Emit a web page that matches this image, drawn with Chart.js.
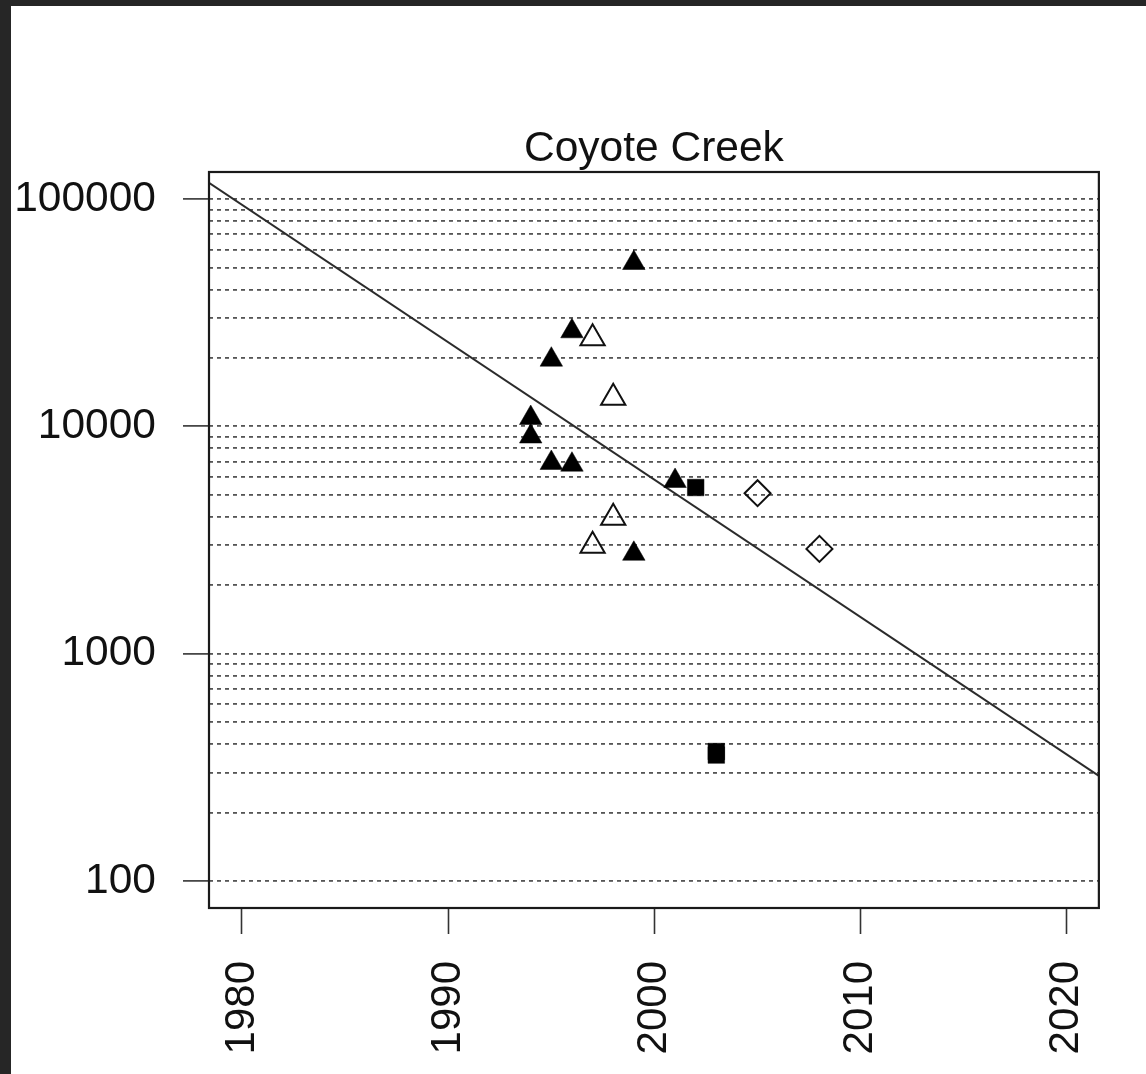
<!DOCTYPE html>
<html>
<head>
<meta charset="utf-8">
<title>Coyote Creek</title>
<script src="https://cdn.jsdelivr.net/npm/chart.js@4/dist/chart.umd.min.js"></script>
<style>
  html, body { margin: 0; padding: 0; background: #262626; width: 1146px; height: 1074px; overflow: hidden; }
  #frame { position: absolute; left: 11px; top: 6px; width: 1135px; height: 1068px; background: #ffffff; }
  canvas { display: block; }
</style>
</head>
<body>
<div id="frame"><canvas id="chart" width="1135" height="1068"></canvas></div>
<script>
// Observations by year, grouped by marker type
const filledTriYears  = [1994, 1994, 1995, 1995, 1996, 1996, 1999, 1999, 2001];
const filledTriValues = [10880, 9020, 19640, 6900, 26180, 6780, 52300, 2750, 5750];

const openTriYears  = [1997, 1997, 1998, 1998];
const openTriValues = [24400, 2980, 13370, 3960];

const squareYears  = [2002, 2003, 2003];
const squareValues = [5380, 371, 358];

const diamondYears  = [2005, 2008];
const diamondValues = [5080, 2890];

// Log-linear trend, drawn across the full year range
const trendYears  = [1978.4, 2021.55];
const trendValues = [117900, 290];

// Axes
const xRange = [1978.4, 2021.55];
const yRange = [76.06, 131470];
const xTicks = [1980, 1990, 2000, 2010, 2020];
const yTickLabels = [100, 1000, 10000, 100000];
const yGridValues = [
  100, 200, 300, 400, 500, 600, 700, 800, 900,
  1000, 2000, 3000, 4000, 5000, 6000, 7000, 8000, 9000,
  10000, 20000, 30000, 40000, 50000, 60000, 70000, 80000, 90000,
  100000
];

const pairs = (xs, ys) => xs.map((x, i) => ({ x: x, y: ys[i] }));

const FONT = '"Liberation Sans", Arial, Helvetica, sans-serif';
const INK = '#111111';

// Solid frame around the plotting area
const boxPlugin = {
  id: 'plotBox',
  afterDraw(chart) {
    const a = chart.chartArea;
    const ctx = chart.ctx;
    ctx.save();
    ctx.strokeStyle = '#1a1a1a';
    ctx.lineWidth = 2.2;
    ctx.setLineDash([]);
    ctx.strokeRect(a.left, a.top, a.right - a.left, a.bottom - a.top);
    ctx.restore();
  }
};

new Chart(document.getElementById('chart'), {
  type: 'scatter',
  data: {
    datasets: [
      {
        label: 'trend',
        data: pairs(trendYears, trendValues),
        showLine: true,
        borderColor: '#2b2b2b',
        borderWidth: 2,
        pointRadius: 0,
        order: 5
      },
      {
        label: 'filled triangles',
        data: pairs(filledTriYears, filledTriValues),
        pointStyle: 'triangle',
        pointRadius: 13,
        backgroundColor: '#000000',
        borderColor: '#000000',
        borderWidth: 0.5
      },
      {
        label: 'open triangles',
        data: pairs(openTriYears, openTriValues),
        pointStyle: 'triangle',
        pointRadius: 14,
        backgroundColor: 'rgba(0,0,0,0)',
        borderColor: INK,
        borderWidth: 2
      },
      {
        label: 'squares',
        data: pairs(squareYears, squareValues),
        pointStyle: 'rect',
        pointRadius: 11.7,
        backgroundColor: '#000000',
        borderColor: '#000000',
        borderWidth: 0.5
      },
      {
        label: 'diamonds',
        data: pairs(diamondYears, diamondValues),
        pointStyle: 'rectRot',
        pointRadius: 13,
        backgroundColor: 'rgba(0,0,0,0)',
        borderColor: INK,
        borderWidth: 2
      }
    ]
  },
  options: {
    responsive: false,
    animation: false,
    devicePixelRatio: 1,
    layout: { padding: { left: 0, right: 45, top: 0, bottom: 0 } },
    plugins: {
      legend: { display: false },
      tooltip: { enabled: false },
      title: {
        display: true,
        text: 'Coyote Creek',
        fullSize: false,
        color: INK,
        font: { family: FONT, size: 42.5, weight: 'normal', lineHeight: 1.0 },
        padding: { top: 122.5, bottom: 1 }
      }
    },
    scales: {
      x: {
        type: 'linear',
        position: 'bottom',
        min: xRange[0],
        max: xRange[1],
        afterBuildTicks(scale) {
          scale.ticks = xTicks.map(v => ({ value: v }));
        },
        afterFit(scale) { scale.height = 166; },
        ticks: {
          autoSkip: false,
          minRotation: 90,
          maxRotation: 90,
          padding: 27,
          color: INK,
          font: { family: FONT, size: 42 },
          callback: v => String(v)
        },
        grid: {
          drawOnChartArea: false,
          drawTicks: true,
          tickLength: 26,
          tickWidth: 1.6,
          tickColor: '#333333'
        },
        border: { display: false }
      },
      y: {
        type: 'logarithmic',
        position: 'left',
        min: yRange[0],
        max: yRange[1],
        afterBuildTicks(scale) {
          scale.ticks = yGridValues.map(v => ({ value: v }));
        },
        afterFit(scale) { scale.width = 198; },
        ticks: {
          autoSkip: false,
          padding: 27,
          color: INK,
          font: { family: FONT, size: 42.5 },
          callback: v => (yTickLabels.includes(v) ? String(v) : '')
        },
        grid: {
          drawOnChartArea: true,
          drawTicks: true,
          color: '#555555',
          lineWidth: 1.8,
          tickLength: 26,
          tickWidth: 1.6,
          tickColor: ctx => (ctx.tick && yTickLabels.includes(ctx.tick.value) ? '#333333' : 'rgba(0,0,0,0)'),
          tickBorderDash: []
        },
        border: { display: false, dash: [4, 4] }
      }
    }
  },
  plugins: [boxPlugin]
});
</script>
</body>
</html>
